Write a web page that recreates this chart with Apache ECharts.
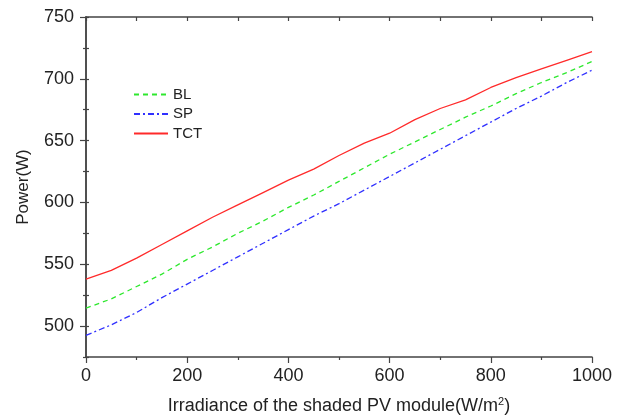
<!DOCTYPE html>
<html>
<head>
<meta charset="utf-8">
<script src="https://cdn.jsdelivr.net/npm/echarts@6/dist/echarts.min.js"></script>
<style>
html,body{margin:0;padding:0;background:#fff;}
#main{width:623px;height:416px;}
</style>
</head>
<body>
<div id="main"></div>
<script>
const irradiance = [0,50,100,150,200,250,300,350,400,450,500,550,600,650,700,750,800,850,900,950,1000];
const BL  = [514.5,522,532,542,554,564,575,585,596,606,617,628,639,649,659,669,678,688,697,705,714];
const SP  = [492.5,501,511,523,534,545,556,567,578,589,599,610,621,632,643,654,665,676,686,697,707];
const TCT = [538,545,555,566,577,588,598,608,618,627,638,648,656,667,676,683,693,701,708,715,722];
const xMajor = [0,200,400,600,800,1000];
const xMinor = [100,300,500,700,900];
const xAll = [0,100,200,300,400,500,600,700,800,900,1000];
const yMajor = [500,550,600,650,700,750];
const yMinor = [475,525,575,625,675,725];
const yAll = [475,500,525,550,575,600,625,650,675,700,725,750];

const pairs = (ys) => irradiance.map((x, i) => [x, ys[i]]);
const font = 'Liberation Sans, Arial, sans-serif';
const axisColor = '#444';
const plain = (v) => String(v);

const chart = echarts.init(document.getElementById('main'), null, {renderer: 'canvas'});
chart.setOption({
  animation: false,
  backgroundColor: '#fff',
  grid: {left: 86, right: 31, top: 17, bottom: 59, containLabel: false, outerBoundsMode: 'none'},
  legend: {
    orient: 'vertical', left: 128, top: 82, itemWidth: 34, itemHeight: 14, itemGap: 4.5,
    itemStyle: {opacity: 0},
    textStyle: {fontFamily: font, fontSize: 15, color: '#222'},
    data: ['BL','SP','TCT']
  },
  xAxis: [
    {type: 'value', min: 0, max: 1000, position: 'bottom',
     name: 'Irradiance of the shaded PV module(W/m{sup|2})', nameLocation: 'middle', nameGap: 39, nameMoveOverlap: false,
     nameTextStyle: {fontFamily: font, fontSize: 18, color: '#222', rich: {sup: {fontSize: 11, verticalAlign: 'top', padding: [0,0,9,0], fontFamily: font, color: '#222'}}},
     axisLine: {show: true, lineStyle: {color: axisColor, width: 1.5}},
     axisTick: {show: true, inside: false, length: 6, customValues: xMajor, lineStyle: {color: axisColor, width: 1.2}},
     axisLabel: {show: true, customValues: xMajor, formatter: plain, margin: 10, fontFamily: font, fontSize: 18, color: '#222'},
     splitLine: {show: false}},
    {type: 'value', min: 0, max: 1000, position: 'bottom',
     axisLine: {show: false},
     axisTick: {show: true, inside: false, length: 3, customValues: xMinor, lineStyle: {color: axisColor, width: 1.2}},
     axisLabel: {show: false}, splitLine: {show: false}},
    {type: 'value', min: 0, max: 1000, position: 'top',
     axisLine: {show: true, lineStyle: {color: axisColor, width: 1.5}},
     axisTick: {show: true, inside: true, length: 4, customValues: xAll, lineStyle: {color: axisColor, width: 1.2}},
     axisLabel: {show: false}, splitLine: {show: false}}
  ],
  yAxis: [
    {type: 'value', min: 475, max: 750, position: 'left',
     name: 'Power(W)', nameLocation: 'middle', nameGap: 54, nameRotate: 90, nameMoveOverlap: false,
     nameTextStyle: {fontFamily: font, fontSize: 17, color: '#222'},
     axisLine: {show: true, lineStyle: {color: axisColor, width: 1.5}},
     axisTick: {show: true, inside: false, length: 6, customValues: yMajor, lineStyle: {color: axisColor, width: 1.2}},
     axisLabel: {show: true, customValues: yMajor, formatter: plain, margin: 12, fontFamily: font, fontSize: 18, color: '#222'},
     splitLine: {show: false}},
    {type: 'value', min: 475, max: 750, position: 'left',
     axisLine: {show: false},
     axisTick: {show: true, inside: false, length: 3, customValues: yMinor, lineStyle: {color: axisColor, width: 1.2}},
     axisLabel: {show: false}, splitLine: {show: false}},
    {type: 'value', min: 475, max: 750, position: 'right',
     axisLine: {show: true, lineStyle: {color: axisColor, width: 1.5}},
     axisTick: {show: true, inside: false, length: 3, customValues: yAll, lineStyle: {color: axisColor, width: 1.2}},
     axisLabel: {show: false}, splitLine: {show: false}}
  ],
  series: [
    {name: 'BL', type: 'line', data: pairs(BL), symbol: 'none', smooth: false,
     itemStyle: {color: '#2ee82e'}, lineStyle: {color: '#2ee82e', width: 1.3, type: [5,4]}},
    {name: 'SP', type: 'line', data: pairs(SP), symbol: 'none', smooth: false,
     itemStyle: {color: '#3030ff'}, lineStyle: {color: '#3030ff', width: 1.3, type: [6,3,2,3]}},
    {name: 'TCT', type: 'line', data: pairs(TCT), symbol: 'none', smooth: false,
     itemStyle: {color: '#ff2a2a'}, lineStyle: {color: '#ff2a2a', width: 1.3}}
  ]
});
</script>
</body>
</html>
